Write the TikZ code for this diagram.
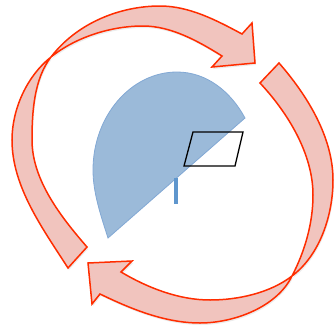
\documentclass[tikz,border=0pt]{standalone}
\usetikzlibrary{shadows}
\definecolor{arrowfill}{RGB}{241,196,190}
\definecolor{arrowline}{RGB}{255,45,0}
\definecolor{sectorfill}{RGB}{155,186,217}
\definecolor{sectorline}{RGB}{130,168,212}
\definecolor{stemblue}{RGB}{95,150,205}
\begin{document}
\begin{tikzpicture}[
    x=1pt, y=-1pt,
    cyclearrow/.style={fill=arrowfill, draw=arrowline, line width=1.5pt, line join=miter,
        drop shadow={shadow xshift=1pt, shadow yshift=-2pt, opacity=0.15}},
    sector/.style={fill=sectorfill, draw=sectorline, line width=0.8pt},
    plate/.style={draw=black, line width=1.3pt, line join=miter},
    stem/.style={draw=stemblue, line width=4.5pt}
]
\useasboundingbox (0,0) rectangle (335,330);
\path[sector] (108,238) .. controls (101,216) and (93,193) .. (93,170)
    .. controls (93,116) and (131,72) .. (177,72)
    .. controls (207,72) and (231,92) .. (245,118) -- cycle;
\path[plate] (193,132) -- (243,132) -- (235,166) -- (184,166) -- cycle;
\path[stem] (176,178) -- (176,204);
\path[cyclearrow] (68,268) .. controls (43,229) and (12,187) .. (12,140)
    .. controls (12,109) and (27,76) .. (51,57)
    .. controls (76,37) and (111,26) .. (143,26)
    .. controls (171,26) and (198,41) .. (222,56)
    -- (212,67) -- (255,63) -- (252,23) -- (242,34)
    .. controls (216,20) and (189,6) .. (160,6)
    .. controls (120,6) and (77,23) .. (51,57)
    .. controls (34,79) and (32,112) .. (32,140)
    .. controls (32,180) and (61,217) .. (87,247)
    -- cycle;
\path[cyclearrow] (279,63) .. controls (307,95) and (333,137) .. (333,180)
    .. controls (333,215) and (320,255) .. (292,276)
    .. controls (270,293) and (238,300) .. (210,300)
    .. controls (179,300) and (148,288) .. (121,272)
    -- (132,261) -- (88,263) -- (92,304) -- (100,294)
    .. controls (131,309) and (165,323) .. (200,323)
    .. controls (234,323) and (277,307) .. (292,276)
    .. controls (305,251) and (313,223) .. (313,195)
    .. controls (313,154) and (288,113) .. (260,83)
    -- cycle;
\end{tikzpicture}
\end{document}
